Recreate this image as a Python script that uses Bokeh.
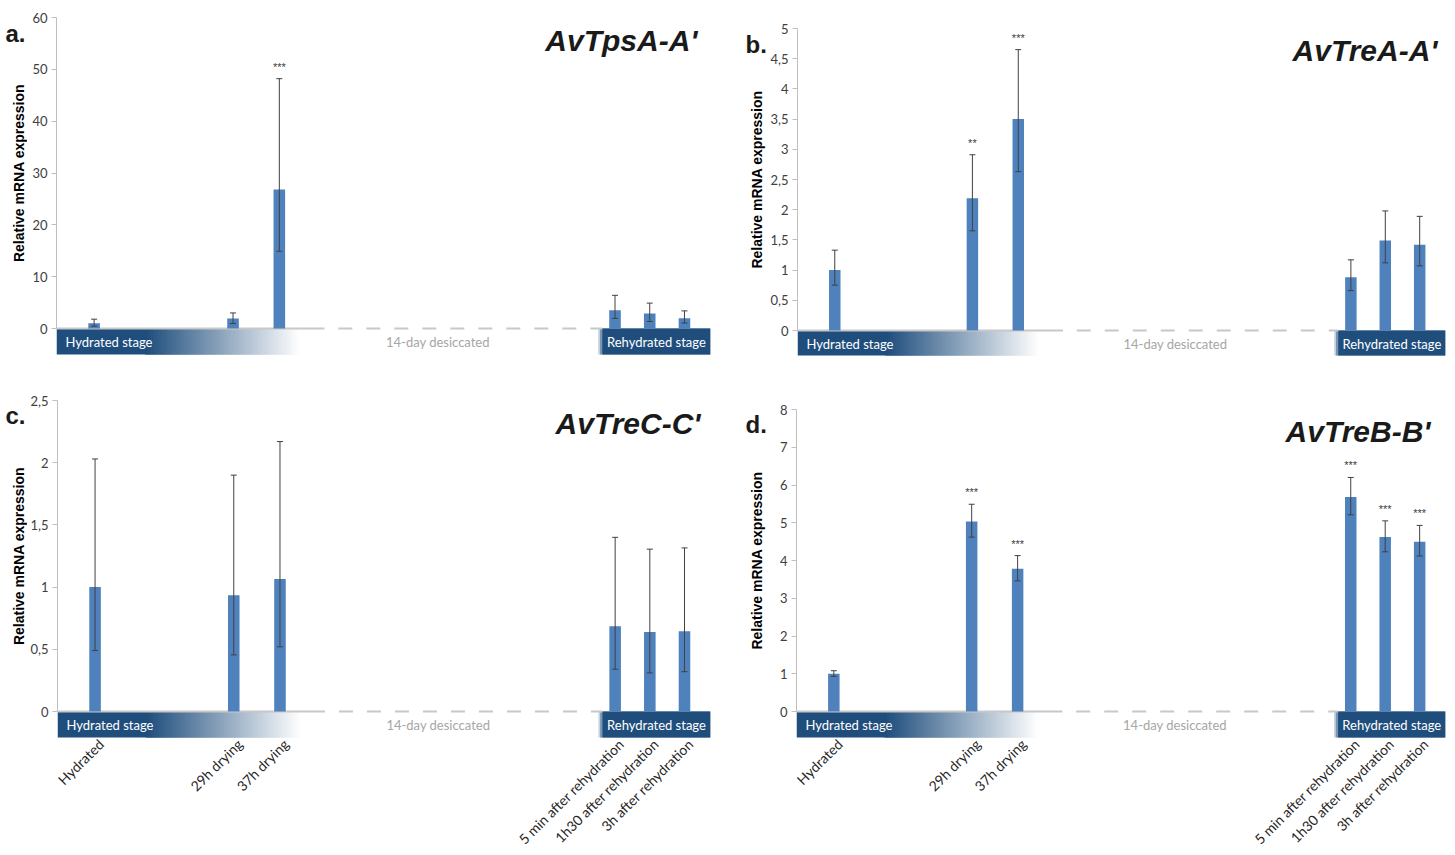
import math
import numpy as np
from bokeh.plotting import figure
from bokeh.models import (FactorRange, Range1d, ColumnDataSource, Whisker, TeeHead, Label,
                          FixedTicker, CustomJSTickFormatter)
from bokeh.layouts import column, row
from bokeh.core.properties import value
from bokeh.embed import file_html
from bokeh.resources import INLINE

# ---------------- data ----------------
categories = ["Hydrated", "29h drying", "37h drying",
              "5 min after rehydration", "1h30 after rehydration", "3h after rehydration"]

tps_mean = [1.0, 1.95, 26.8, 3.5, 2.9, 2.0]
tps_upper = [1.8, 3.0, 48.2, 6.4, 4.9, 3.4]
tps_lower = [0.45, 0.95, 14.9, 1.95, 1.35, 1.05]
tps_sig = ["", "", "***", "", "", ""]

trea_mean = [1.0, 2.19, 3.50, 0.88, 1.49, 1.42]
trea_upper = [1.33, 2.91, 4.65, 1.17, 1.98, 1.89]
trea_lower = [0.75, 1.65, 2.63, 0.66, 1.12, 1.07]
trea_sig = ["", "**", "***", "", "", ""]

trec_mean = [1.0, 0.935, 1.065, 0.685, 0.64, 0.645]
trec_upper = [2.03, 1.90, 2.17, 1.40, 1.305, 1.315]
trec_lower = [0.49, 0.455, 0.52, 0.34, 0.31, 0.32]
trec_sig = ["", "", "", "", "", ""]

treb_mean = [1.0, 5.03, 3.78, 5.68, 4.62, 4.50]
treb_upper = [1.08, 5.49, 4.13, 6.20, 5.05, 4.93]
treb_lower = [0.93, 4.62, 3.46, 5.21, 4.23, 4.12]
treb_sig = ["", "***", "***", "***", "***", "***"]

stage_labels = ["Hydrated stage", "14-day desiccated", "Rehydrated stage"]
y_title = "Relative mRNA expression"

# ---------------- layout / style ----------------
SLOTS = [1, 13, 17, 46, 49, 52]      # slot of each category on the categorical axis
N_SLOTS = 53
PAD = 1.75                          # padding (in slot units) each side
BANNER_PX = 26
BAR_COLOR = "#4F81BD"
DARK = (31, 78, 125)
AXIS_GREY = "#bfbfbf"

slot_map = dict(zip(SLOTS, categories))
factors = [slot_map.get(i, "\u200b" * (i + 1)) for i in range(N_SLOTS)]
X_LO, X_HI = -PAD, N_SLOTS + PAD


def cpos(i):
    return SLOTS[i] + 0.5


def mix(t):
    r, g, b = [int(round(c + (255 - c) * t)) for c in DARK]
    return "#%02x%02x%02x" % (r, g, b)


def make_panel(letter, gene, mean, upper, lower, sig, y_max, y_step, geo,
               lab_w, lab_letter_x, lab_title_x,
               width, height, bl, br, bt, bb, show_x, letter_dy, title_dx, title_dy):
    top_px, zero_px, ftop_px, fbot_px = geo
    k = y_max / (zero_px - top_px)               # data units per pixel
    y_hi = y_max + (top_px - ftop_px) * k
    y_lo = -(fbot_px - zero_px) * k
    b_lo = -BANNER_PX * k                        # bottom of the stage banner
    yr = Range1d(y_lo, y_hi)

    # ---- narrow strip holding the panel letter and the y title ----
    q = figure(x_range=Range1d(0, lab_w), y_range=yr, width=lab_w, height=height,
               min_border_left=0, min_border_right=0, min_border_top=bt, min_border_bottom=bb,
               output_backend="svg", toolbar_location=None,
               x_axis_location=None, y_axis_location=None)
    q.title.visible = False
    q.outline_line_color = None
    q.xgrid.visible = False
    q.ygrid.visible = False
    q.text(x=[lab_letter_x], y=[y_hi - letter_dy * k], text=[letter],
           text_font=value("Liberation Sans"), text_font_style="bold", text_font_size="24px",
           text_color="#1a1a1a", text_align="left", text_baseline="middle")
    q.text(x=[lab_title_x], y=[y_max / 2], text=[y_title], angle=math.pi / 2,
           text_font=value("Liberation Sans"), text_font_style="bold", text_font_size="14px",
           text_color="black", text_align="center", text_baseline="middle")

    # ---- main chart ----
    p = figure(x_range=FactorRange(factors=factors, range_padding=PAD,
                                   range_padding_units="absolute", factor_padding=0),
               y_range=yr, width=width, height=height,
               min_border_left=bl, min_border_right=br, min_border_top=bt, min_border_bottom=bb,
               output_backend="svg", toolbar_location=None, x_axis_location=None)
    p.title.visible = False
    p.outline_line_color = None
    p.xgrid.visible = False
    p.ygrid.visible = False
    p.background_fill_color = "white"
    p.border_fill_color = "white"

    # stage banner: slices drawn back to front, each overlapping the next (no seams)
    g0 = cpos(0) + 4.4
    g1 = cpos(2) + 1.9
    rl = cpos(3) - 1.1
    n = 60
    sw = (g1 - g0) / n
    lefts = [X_LO] + [g0 + sw * i for i in range(n)]
    rights = [g0 + 0.3] + [min(g0 + sw * (i + 1) + 0.3, g1) for i in range(n)]
    cols = [mix(0)] + [mix(i / (n - 1)) for i in range(n)]
    p.quad(left=lefts, right=rights, top=[0] * len(lefts), bottom=[b_lo] * len(lefts),
           fill_color=cols, line_color=None)
    p.quad(left=[rl - 0.35, rl - 0.2, rl], right=[X_HI, X_HI, X_HI], top=[0, 0, 0],
           bottom=[b_lo] * 3, fill_color=[mix(0.75), mix(0.4), mix(0)], line_color=None)

    # base line
    solid_end = cpos(2) + 3.9
    p.segment(x0=[X_LO], y0=[0], x1=[solid_end], y1=[0], line_color="#c8c8c8", line_width=2)
    p.segment(x0=[solid_end + 1.2], y0=[0], x1=[rl], y1=[0], line_color="#c8c8c8",
              line_width=2, line_dash="14 14")

    ymid = b_lo / 2
    p.text(x=[X_LO], y=[ymid], text=[stage_labels[0]], x_offset=9,
           text_font=value("Lato"), text_font_size="13px", text_color="white",
           text_align="left", text_baseline="middle")
    p.text(x=[cpos(2) + 13.7], y=[ymid], text=[stage_labels[1]],
           text_font=value("Lato"), text_font_size="13px", text_color="#a6a6a6",
           text_align="center", text_baseline="middle")
    p.text(x=[(rl + X_HI) / 2], y=[ymid], text=[stage_labels[2]],
           text_font=value("Lato"), text_font_size="13px", text_color="white",
           text_align="center", text_baseline="middle")

    src = ColumnDataSource(dict(cat=categories, mean=mean, upper=upper, lower=lower, sig=sig,
                                lab_y=[b_lo] * len(categories)))
    p.vbar(x="cat", top="mean", bottom=0, width=1.0, source=src,
           fill_color=BAR_COLOR, line_color=None)
    w = Whisker(source=src, base="cat", upper="upper", lower="lower",
                line_color="#404040", line_width=1, level="annotation",
                upper_head=TeeHead(size=6, line_color="#404040", line_width=1),
                lower_head=TeeHead(size=6, line_color="#404040", line_width=1))
    p.add_layout(w)
    p.text(x="cat", y="upper", text="sig", source=src, y_offset=-12,
           text_font=value("Liberation Sans"), text_font_size="11px", text_color="#404040",
           text_align="center", text_baseline="alphabetic")

    if show_x:
        p.text(x="cat", y="lab_y", text="cat", source=src, angle=math.pi / 4,
               x_offset=6, y_offset=4,
               text_font=value("Lato"), text_font_size="14px", text_color="#262626",
               text_align="right", text_baseline="middle")

    # y axis (numbers)
    ya = p.yaxis[0]
    ya.bounds = (0, y_max)
    ya.ticker = FixedTicker(ticks=[float(t) for t in np.arange(0, y_max + y_step / 2, y_step)])
    ya.formatter = CustomJSTickFormatter(code="return String(tick).replace('.', ',');")
    ya.axis_line_color = AXIS_GREY
    ya.major_tick_line_color = AXIS_GREY
    ya.major_tick_out = 5
    ya.major_tick_in = 0
    ya.minor_tick_line_color = None
    ya.major_label_text_font = "Lato"
    ya.major_label_text_font_size = "13px"
    ya.major_label_text_color = "#404040"
    ya.major_label_standoff = 4

    p.add_layout(Label(x=X_HI, y=y_hi, x_offset=title_dx, y_offset=-title_dy, text=gene,
                       text_font="Liberation Sans", text_font_style="bold italic",
                       text_font_size="30px", text_color="#1a1a1a",
                       text_align="right", text_baseline="middle"))
    return q, p


# geometry (page px): y of top tick, y of zero, frame top, frame bottom
qa, pa = make_panel("a.", "AvTpsA-A'", tps_mean, tps_upper, tps_lower, tps_sig, 60, 10,
                    (17, 328, 17, 355), 27, 5, 18,
                    718, 380, 29, 35, 17, 25, False, 16, -13, 23)
qb, pb = make_panel("b.", "AvTreA-A'", trea_mean, trea_upper, trea_lower, trea_sig, 5, 0.5,
                    (28, 330, 17, 355), 22, 0, 11,
                    686, 380, 29, 8, 17, 25, False, 27, -8, 33)
qc, pc = make_panel("c.", "AvTreC-C'", trec_mean, trec_upper, trec_lower, trec_sig, 2.5, 0.5,
                    (400, 711, 400, 853), 27, 5, 18,
                    718, 473, 29, 35, 20, 0, True, 15, -10, 23)
qd, pd = make_panel("d.", "AvTreB-B'", treb_mean, treb_upper, treb_lower, treb_sig, 8, 1,
                    (409, 711, 400, 853), 22, 0, 11,
                    686, 473, 29, 8, 20, 0, True, 24, -15, 31)

layout = column(row(qa, pa, qb, pb), row(qc, pc, qd, pd))
open("out.html", "w").write(file_html(layout, INLINE))
